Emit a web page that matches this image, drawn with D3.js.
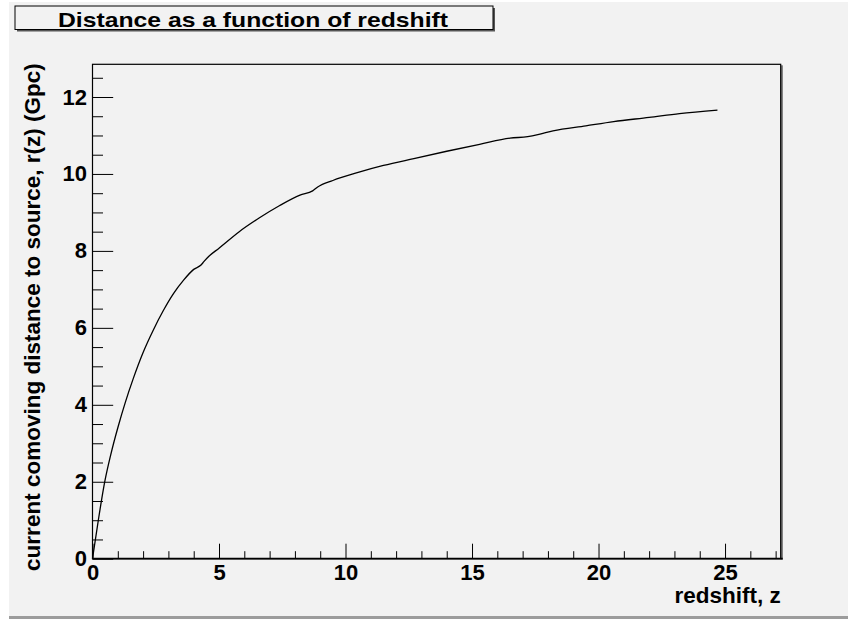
<!DOCTYPE html>
<html><head><meta charset="utf-8">
<script src="https://cdn.jsdelivr.net/npm/d3@7"></script>
<style>body{margin:0;background:#fff}svg{display:block}</style>
</head><body>
<svg id="c" width="857" height="620"></svg>
<script>
// ---- data ----
const redshift = [0, 0.23, 0.49, 0.72, 1.02, 1.3, 1.61, 2.0, 2.4, 2.8, 3.2, 3.6, 4.0, 4.3, 4.4, 4.6, 5.0, 5.8, 6.6, 7.4, 8.2, 8.7, 8.9, 9.5, 10.5, 11.5, 12.7, 14.0, 15.3, 16.5, 17.2, 17.6, 18.2, 19.5, 20.6, 22.0, 23.2, 24.7];
const distance = [0, 1.0, 2.02, 2.7, 3.45, 4.07, 4.68, 5.36, 5.94, 6.45, 6.89, 7.24, 7.52, 7.64, 7.72, 7.86, 8.07, 8.5, 8.86, 9.18, 9.45, 9.56, 9.66, 9.83, 10.04, 10.22, 10.40, 10.59, 10.77, 10.93, 10.97, 11.02, 11.12, 11.25, 11.36, 11.47, 11.57, 11.66];
const xMajorTicks = [0, 5, 10, 15, 20, 25];
const xMinorTicks = [1, 2, 3, 4, 6, 7, 8, 9, 11, 12, 13, 14, 16, 17, 18, 19, 21, 22, 23, 24, 26, 27];
const yMajorTicks = [0, 2, 4, 6, 8, 10, 12];
const yMinorTicks = [0.5, 1, 1.5, 2.5, 3, 3.5, 4.5, 5, 5.5, 6.5, 7, 7.5, 8.5, 9, 9.5, 10.5, 11, 11.5, 12.5];
const titleText = "Distance as a function of redshift";
const xTitleText = "redshift, z";
const yTitleText = "current comoving distance to source, r(z) (Gpc)";
const xDomain = [0, 27.2];
const yDomain = [0, 12.85];

// ---- drawing ----
const FONT = "'Liberation Sans', Arial, Helvetica, sans-serif";
const BG = "#f2f2f2";
const svg = d3.select("#c");
const L = 92.5, R = 780.7, T = 64.3, B = 558.7;

// canvas
svg.append("rect").attr("x", 9).attr("y", 2).attr("width", 839).attr("height", 614).attr("fill", BG);
svg.append("rect").attr("x", 9).attr("y", 616).attr("width", 839).attr("height", 3).attr("fill", "#9c9c9c");

const x = d3.scaleLinear().domain(xDomain).range([L, R]);
const y = d3.scaleLinear().domain(yDomain).range([B, T]);

// frame shadow on right
svg.append("rect").attr("x", R).attr("y", T + 1).attr("width", 2.2).attr("height", B - T).attr("fill", "#777");

// minor ticks
svg.append("g").attr("transform", `translate(0,${B})`)
  .call(d3.axisBottom(x).tickValues(xMinorTicks).tickSize(-7.5).tickFormat(""))
  .call(g => g.select(".domain").remove())
  .call(g => g.selectAll("line").attr("stroke", "#000").attr("stroke-width", 1));
svg.append("g").attr("transform", `translate(${L},0)`)
  .call(d3.axisLeft(y).tickValues(yMinorTicks).tickSize(-10.5).tickFormat(""))
  .call(g => g.select(".domain").remove())
  .call(g => g.selectAll("line").attr("stroke", "#000").attr("stroke-width", 1));

// major ticks + labels
svg.append("g").attr("transform", `translate(0,${B})`)
  .call(d3.axisBottom(x).tickValues(xMajorTicks).tickSize(-15).tickPadding(5.5).tickFormat(d3.format("d")))
  .call(g => g.select(".domain").remove())
  .call(g => g.selectAll("line").attr("stroke", "#000").attr("stroke-width", 1))
  .call(g => g.selectAll("text").attr("font-family", FONT).attr("font-weight", "bold").attr("font-size", 22).attr("fill", "#000"));
svg.append("g").attr("transform", `translate(${L},0)`)
  .call(d3.axisLeft(y).tickValues(yMajorTicks).tickSize(-20.7).tickPadding(5.5).tickFormat(d3.format("d")))
  .call(g => g.select(".domain").remove())
  .call(g => g.selectAll("line").attr("stroke", "#000").attr("stroke-width", 1))
  .call(g => g.selectAll("text").attr("font-family", FONT).attr("font-weight", "bold").attr("font-size", 22).attr("fill", "#000"));

// frame
svg.append("rect").attr("x", L).attr("y", T).attr("width", R - L).attr("height", B - T)
  .attr("fill", "none").attr("stroke", "#000").attr("stroke-width", 1.2);
svg.append("line").attr("x1", L).attr("x2", R + 2).attr("y1", B).attr("y2", B).attr("stroke", "#000").attr("stroke-width", 1.8);

// curve
const line = d3.line().x((d, i) => x(redshift[i])).y((d, i) => y(distance[i])).curve(d3.curveMonotoneX);
svg.append("path").datum(distance).attr("d", line).attr("fill", "none").attr("stroke", "#000").attr("stroke-width", 1.3);

// axis titles
svg.append("text").attr("x", R).attr("y", 603).attr("text-anchor", "end")
  .attr("font-family", FONT).attr("font-weight", "bold").attr("font-size", 22.5).text(xTitleText);
svg.append("text").attr("transform", `translate(40,${T - 1}) rotate(-90)`).attr("text-anchor", "end")
  .attr("font-family", FONT).attr("font-weight", "bold").attr("font-size", 22.5).text(yTitleText);

// title box
svg.append("rect").attr("x", 17).attr("y", 8).attr("width", 478).attr("height", 23.5).attr("fill", "#555");
svg.append("rect").attr("x", 15).attr("y", 6).attr("width", 478).attr("height", 23.5).attr("fill", BG).attr("stroke", "#000").attr("stroke-width", 1);
svg.append("text").attr("x", 253).attr("y", 27).attr("text-anchor", "middle")
  .attr("font-family", FONT).attr("font-weight", "bold").attr("font-size", 21)
  .attr("textLength", 390).attr("lengthAdjust", "spacingAndGlyphs").text(titleText);
</script>
</body></html>
